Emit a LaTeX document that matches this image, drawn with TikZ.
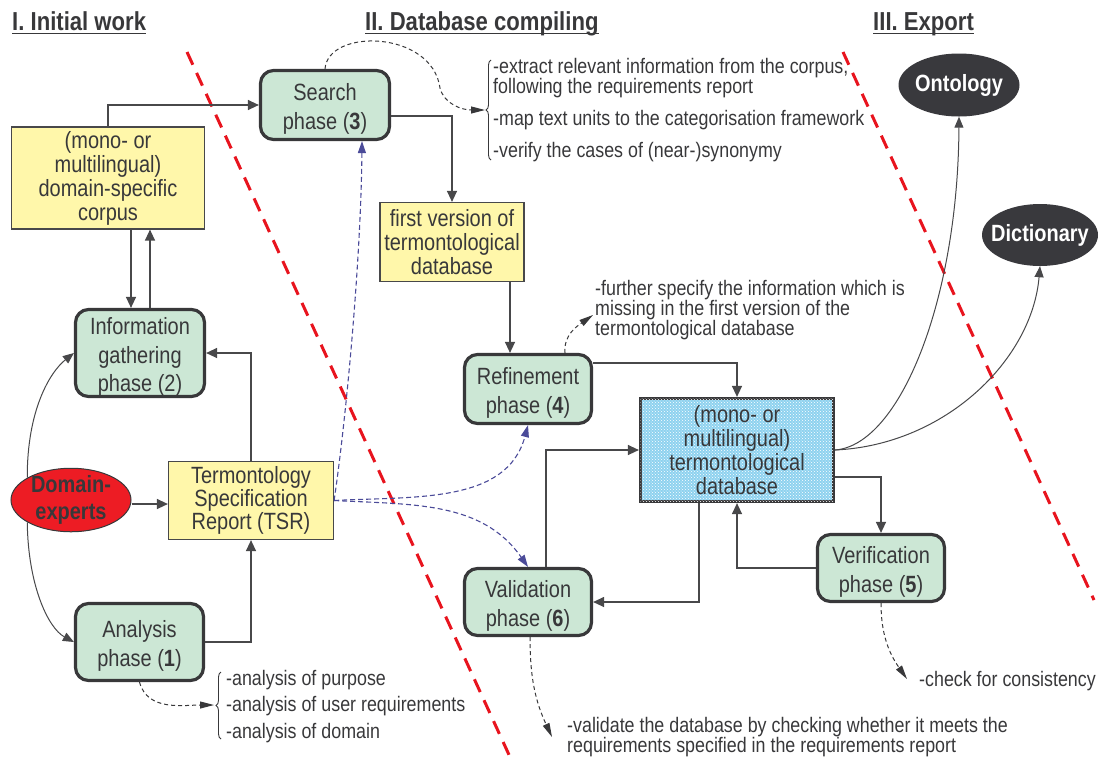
\documentclass[tikz,border=0pt]{standalone}
\usepackage{fontspec}
\setmainfont[FakeStretch=0.85]{Liberation Sans}
\usetikzlibrary{arrows.meta,shapes.geometric,patterns,decorations.pathreplacing}

\definecolor{ink}{HTML}{38383A}
\definecolor{phasegreen}{HTML}{CCE7D5}
\definecolor{noteyellow}{HTML}{FFF7AA}
\definecolor{domred}{HTML}{ED1C24}
\definecolor{darkoval}{HTML}{39393D}
\definecolor{dbblue}{HTML}{8ED2EF}
\definecolor{planblue}{HTML}{4B4B99}
\definecolor{borderred}{HTML}{E8141E}
\definecolor{wire}{HTML}{48484A}

% invisible strut that lowers the text of the phase boxes a little
\newcommand\tallstrut{\rule{0pt}{25pt}}

\tikzset{
  phasebox/.style={draw=ink, line width=3.2pt, rounded corners=13pt, fill=phasegreen,
    text=ink, align=center, inner sep=0pt, font=\fontsize{23.5}{28.5}\selectfont},
  notebox/.style={draw=wire, line width=1.2pt, fill=noteyellow, text=ink,
    align=center, inner sep=0pt, font=\fontsize{23.5}{24}\selectfont},
  dbbox/.style={draw=ink, line width=3.2pt, fill=dbblue,
    postaction={pattern=crosshatch dots, pattern color=white},
    text=ink, align=center, inner sep=0pt, font=\fontsize{23.5}{24}\selectfont},
  oval/.style={ellipse, fill=darkoval, text=white, inner sep=0pt,
    font=\bfseries\fontsize{23.5}{28}\selectfont},
  conn/.style={draw=wire, line width=1.3pt, -{Triangle[length=11pt,width=10pt]}},
  link/.style={draw=wire, line width=1pt, -{Triangle[length=11pt,width=9pt]}},
  plan/.style={draw=planblue, line width=1.1pt, dash pattern=on 5pt off 3pt,
    -{Triangle[length=12pt,width=8pt]}},
  remark/.style={draw=ink, line width=1pt, dash pattern=on 4pt off 3pt,
    -{Triangle[length=14pt,width=7pt]}},
  notetext/.style={anchor=base west, inner sep=0pt, text=ink,
    font=\fontsize{21}{20}\selectfont},
  heading/.style={anchor=base west, inner sep=0pt, text=ink,
    font=\bfseries\fontsize{26}{30}\selectfont},
  boundary/.style={draw=borderred, line width=3pt, dash pattern=on 14pt off 9pt},
  notebrace/.style={draw=ink, line width=0.9pt, decorate,
    decoration={brace, amplitude=5pt}},
}

\begin{document}
\begin{tikzpicture}[x=1pt, y=-1pt]
\useasboundingbox (0,0) rectangle (1099,761);

% stage boundaries
\coordinate (b1s) at (187,52);  \coordinate (b1e) at (510,757);
\coordinate (b2s) at (843,52);  \coordinate (b2e) at (1094,600);
\draw[boundary] (b1s) -- (b1e);
\draw[boundary] (b2s) -- (b2e);

% stage headings
\node[heading] (h1) at (12,30)  {I. Initial work};
\node[heading] (h2) at (365,30) {II. Database compiling};
\node[heading] (h3) at (873,30) {III. Export};
\foreach \h in {h1,h2,h3}
  \draw[ink, line width=1.8pt] ([yshift=-3.5pt]\h.base west) -- ([yshift=-3.5pt]\h.base east);

% boxes
\node[notebox, minimum width=193, minimum height=102] (corpus) at (108,178)
  {(mono- or\\multilingual)\\domain-specific\\corpus};
\node[phasebox, minimum width=129, minimum height=87] (info) at (140,353)
  {\tallstrut Information\\gathering\\phase (2)};
\node[ellipse, draw=ink, line width=1pt, fill=domred, text=ink, inner xsep=2pt, inner ysep=-2pt,
  minimum width=120, minimum height=63, align=center,
  font=\bfseries\fontsize{23.5}{27}\selectfont] (de) at (71,500) {Domain-\\experts};
\node[notebox, minimum width=165, minimum height=78,
  font=\fontsize{23.5}{21}\selectfont] (tsr) at (251,500.5)
  {Termontology\\Specification\\Report (TSR)};
\node[phasebox, minimum width=128, minimum height=77] (analysis) at (139.5,642)
  {\tallstrut Analysis\\phase (\textbf{1})};

\node[phasebox, minimum width=129, minimum height=69] (search) at (325,105)
  {\tallstrut Search\\phase (\textbf{3})};
\node[notebox, minimum width=144, minimum height=79] (first) at (452,242)
  {first version of\\termontological\\database};
\node[phasebox, minimum width=127, minimum height=69] (refine) at (528,389)
  {\tallstrut Refinement\\phase (\textbf{4})};
\node[dbbox, minimum width=193, minimum height=103] (db) at (737,450)
  {(mono- or\\multilingual)\\termontological\\database};
\node[phasebox, minimum width=127, minimum height=67] (valid) at (528,602)
  {\tallstrut Validation\\phase (\textbf{6})};
\node[phasebox, minimum width=127, minimum height=67] (verif) at (881,568)
  {\tallstrut Verification\\phase (\textbf{5})};

\node[oval, inner xsep=-1.5pt, minimum width=121, minimum height=63] (ont) at (959,85) {Ontology};
\node[oval, inner xsep=-8pt, minimum width=116, minimum height=62] (dict) at (1040,235) {Dictionary};

% main flow
\draw[conn] (corpus.north) |- (search.west);
\draw[conn] ([xshift=-9pt]info.north |- corpus.south) -- ([xshift=-9pt]info.north);
\draw[conn] ([xshift=10pt]info.north) -- ([xshift=10pt]info.north |- corpus.south);
\draw[conn] ([yshift=-11pt]search.east) -| (first.north);
\draw[conn] ([xshift=-18pt]refine.north |- first.south) -- ([xshift=-18pt]refine.north);
\draw[conn] ([yshift=26pt]refine.east) -| (db.north);
\draw[conn] ([xshift=18pt]valid.north) |- (db.west);
\draw[conn] ([xshift=-38pt]db.south) |- (valid.east);
\draw[conn] ([yshift=-27pt]db.east) -| (verif.north);
\draw[conn] (verif.west) -| (db.south);
\draw[conn] (tsr.north) |- (info.east);
\draw[conn] (analysis.east) -| (tsr.south);
\draw[conn] ([yshift=-4pt]de.east) -- ([yshift=-4pt]de.east -| tsr.west);

% domain experts feed the two early phases
\draw[link] (de.153) .. controls (27,410) and (50,372) .. (info.west);
\draw[link] (de.207) .. controls (28,585) and (48,628) .. (analysis.west);

% export
\draw[link] (db.east) .. controls (900,445) and (958,300) .. (ont.south);
\draw[link] (db.east) .. controls (945,445) and (1032,360) .. (dict.south);

% the specification report guides the later phases
\draw[plan] (tsr.east) .. controls (346,420) and (361,260) .. ([xshift=37pt]search.south);
\draw[plan] (tsr.east) to[out=3, in=-105] (refine.south);
\draw[plan] (tsr.east) to[out=-3, in=125] (valid.north);

% remarks on the search phase
\coordinate (sbtip) at (485,110);
\draw[notebrace] (491,160) -- (491,60);
\draw[remark] (search.north) .. controls (328,28) and (432,30) .. (440,88)
  .. controls (444,104) and (462,110) .. (sbtip);
\node[notetext] (s1) at (493,73)  {-extract relevant information from the corpus,};
\node[notetext] (s2) at (493,93)  {following the requirements report};
\node[notetext] (s3) at (493,125) {-map text units to the categorisation framework};
\node[notetext] (s4) at (493,157) {-verify the cases of (near-)synonymy};

% remarks on the refinement phase
\coordinate (rtip) at (593,315);
\draw[remark] ([xshift=37pt]refine.north) to[out=95, in=215] (rtip);
\node[notetext] (r1) at (595,295) {-further specify the information which is};
\node[notetext] (r2) at (595,315) {missing in the first version of the};
\node[notetext] (r3) at (595,335) {termontological database};

% remarks on the analysis phase
\coordinate (atip) at (214,705);
\draw[notebrace] (221,739) -- (221,672);
\draw[remark] (analysis.south) to[out=-75, in=180] (atip);
\node[notetext] (a1) at (226,685) {-analysis of purpose};
\node[notetext] (a2) at (226,711.5) {-analysis of user requirements};
\node[notetext] (a3) at (226,738) {-analysis of domain};

% remarks on the validation phase
\coordinate (vtip) at (552,737);
\draw[remark] ([xshift=2pt]valid.south) to[out=-90, in=115] (vtip);
\node[notetext] (v1) at (567,732) {-validate the database by checking whether it meets the};
\node[notetext] (v2) at (567,752) {requirements specified in the requirements report};

% remarks on the verification phase
\coordinate (ctip) at (907,679);
\draw[remark] (verif.south) to[out=-90, in=125] (ctip);
\node[notetext] (c1) at (919,686) {-check for consistency};
\end{tikzpicture}
\end{document}
